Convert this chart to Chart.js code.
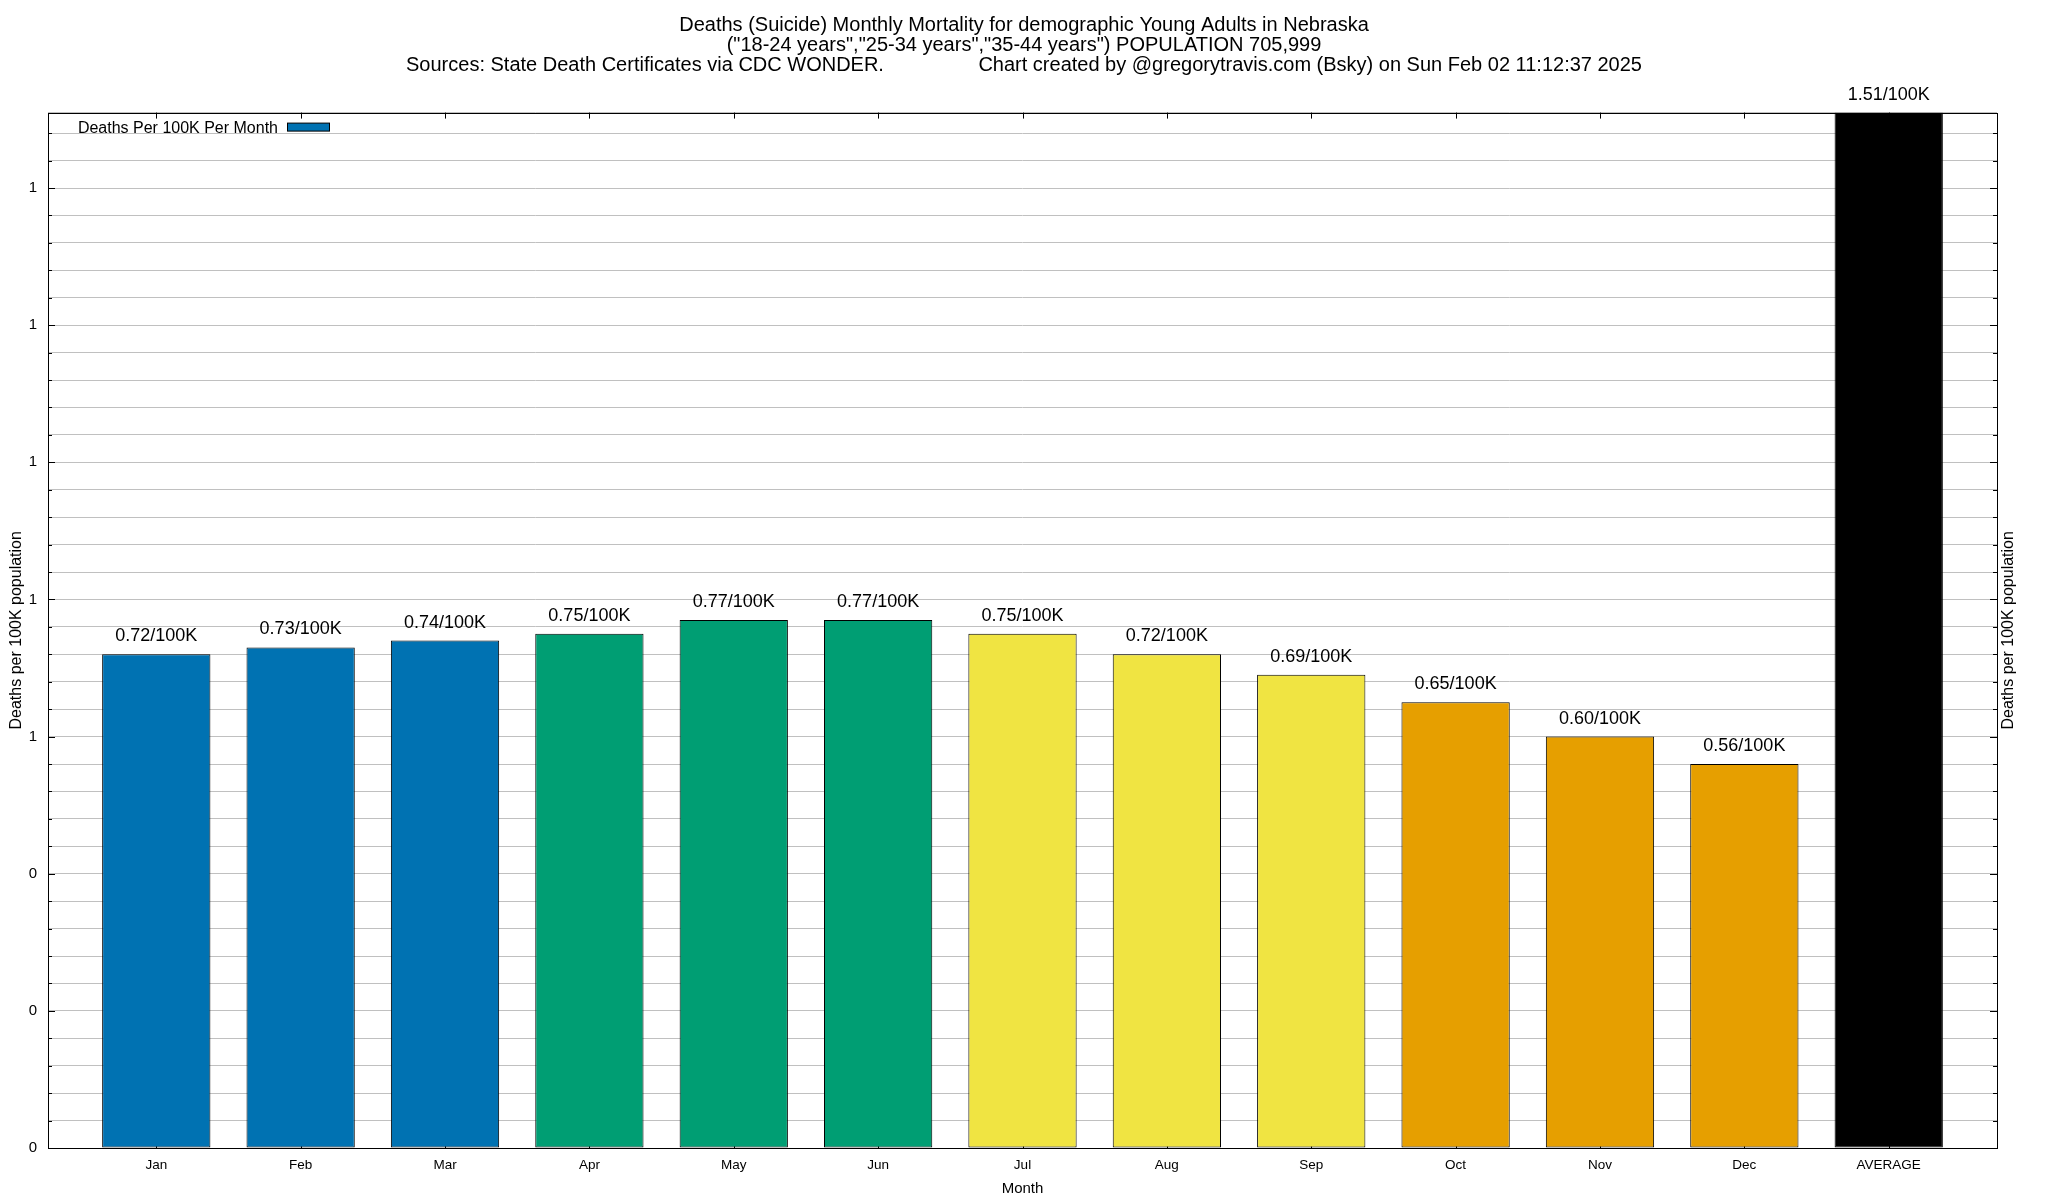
<!DOCTYPE html>
<html>
<head>
<meta charset="utf-8">
<script src="https://cdn.jsdelivr.net/npm/chart.js@4.4.1/dist/chart.umd.min.js"></script>
<style>
body{margin:0;background:#fff}
</style>
</head>
<body>
<canvas id="myChart" width="2048" height="1200"></canvas>
<script>
// data
const months = ['Jan', 'Feb', 'Mar', 'Apr', 'May', 'Jun', 'Jul', 'Aug', 'Sep', 'Oct', 'Nov', 'Dec', 'AVERAGE']
const rates = [0.72, 0.73, 0.74, 0.75, 0.77, 0.77, 0.75, 0.72, 0.69, 0.65, 0.60, 0.56, 1.51]
const barColors = ['#0072b2', '#0072b2', '#0072b2', '#009e73', '#009e73', '#009e73',
  '#f0e442', '#f0e442', '#f0e442', '#e69f00', '#e69f00', '#e69f00', '#000000']
const titleLines = [
  'Deaths (Suicide) Monthly Mortality for demographic Young Adults in Nebraska',
  '("18-24 years","25-34 years","35-44 years") POPULATION 705,999',
  'Sources: State Death Certificates via CDC WONDER.' + ' '.repeat(17) +
    'Chart created by @gregorytravis.com (Bsky) on Sun Feb 02 11:12:37 2025'
]
const seriesName = 'Deaths Per 100K Per Month'
const yName = 'Deaths per 100K population'
const xName = 'Month'
const Y_STEP = 0.04
const Y_LABEL_STEP = 0.2

const FONT = "'Liberation Sans', Arial, Helvetica, sans-serif"
Chart.defaults.color = '#000'
Chart.defaults.font.family = FONT

function isMajor(v) {
  const r = v / Y_LABEL_STEP
  return Math.abs(r - Math.round(r)) < 1e-6
}

//gnuplot style frame, inside ticks, bar labels, key and right label
const gnuFrame = {
  id: 'gnuFrame',
  beforeDatasetsDraw(chart) {
    const {ctx, chartArea: a, scales: {x, y}} = chart
    ctx.save()
    ctx.strokeStyle = '#000'
    ctx.lineWidth = 1
    ctx.beginPath()
    y.ticks.forEach(t => {
      const py = Math.round(y.getPixelForValue(t.value)) + 0.5
      const len = isMajor(t.value) ? 7 : 4
      ctx.moveTo(a.left, py); ctx.lineTo(a.left + len, py)
      ctx.moveTo(a.right, py); ctx.lineTo(a.right - len, py)
    })
    x.ticks.forEach(t => {
      const px = Math.round(x.getPixelForValue(t.value)) + 0.5
      ctx.moveTo(px, a.top); ctx.lineTo(px, a.top + 6)
      ctx.moveTo(px, a.bottom); ctx.lineTo(px, a.bottom - 6)
    })
    ctx.stroke()
    ctx.restore()
  },
  afterDatasetsDraw(chart) {
    const {ctx, chartArea: a} = chart
    ctx.save()
    ctx.strokeStyle = '#000'
    ctx.lineWidth = 1
    ctx.strokeRect(Math.round(a.left) + 0.5, Math.round(a.top) + 0.5,
      Math.round(a.right - a.left), Math.round(a.bottom - a.top))

    // value labels
    ctx.fillStyle = '#000'
    ctx.font = '18px ' + FONT
    ctx.textAlign = 'center'
    ctx.textBaseline = 'alphabetic'
    const meta = chart.getDatasetMeta(0)
    meta.data.forEach((bar, i) => {
      ctx.fillText(rates[i].toFixed(2) + '/100K', bar.x, bar.y - 13)
    })

    // key
    const ds = chart.data.datasets[0]
    ctx.font = '16px ' + FONT
    ctx.textAlign = 'right'
    ctx.fillText(ds.label, a.left + 230, a.top + 20)
    ctx.fillStyle = barColors[0]
    ctx.fillRect(a.left + 239.5, a.top + 10.5, 42, 8)
    ctx.strokeRect(a.left + 239.5, a.top + 10.5, 42, 8)

    // right axis label
    ctx.fillStyle = '#000'
    ctx.translate(a.right + 12, (a.top + a.bottom) / 2)
    ctx.rotate(-Math.PI / 2)
    ctx.textAlign = 'center'
    ctx.textBaseline = 'middle'
    ctx.fillText(yName, 0, 0)
    ctx.restore()
  }
}

const ctx = document.getElementById('myChart').getContext('2d')
const myChart = new Chart(ctx, {
  type: 'bar',
  data: {
    datasets: [{
      label: seriesName,
      data: rates.map((v, i) => ({x: i, y: v})),
      backgroundColor: barColors,
      borderColor: '#000',
      borderWidth: 1,
      borderSkipped: false,
      barPercentage: 0.75,
      categoryPercentage: 1
    }]
  },
  options: {
    responsive: false,
    animation: false,
    devicePixelRatio: 1,
    layout: {padding: 0},
    plugins: {
      legend: {display: false},
      tooltip: {enabled: false},
      title: {
        display: true,
        text: titleLines,
        color: '#000',
        font: {size: 20, weight: 'normal', lineHeight: 1.01},
        padding: {top: 15, bottom: 37}
      }
    },
    scales: {
      x: {
        type: 'linear',
        offset: false,
        min: -0.75,
        max: months.length - 0.25,
        afterBuildTicks: s => { s.ticks = months.map((m, i) => ({value: i})) },
        afterFit: s => { s.height = 52 },
        grid: {display: false, drawTicks: false, offset: false},
        border: {display: false},
        ticks: {
          autoSkip: false,
          maxRotation: 0,
          padding: 9,
          font: {size: 13.5},
          callback: v => months[v] ?? ''
        },
        title: {display: true, text: xName, font: {size: 15}, padding: {top: 0, bottom: 2}}
      },
      y: {
        min: 0,
        max: Math.max(...rates),
        afterFit: s => { s.width = 48 },
        grid: {color: '#c0c0c0', lineWidth: 1, drawTicks: false},
        border: {display: false},
        ticks: {
          stepSize: Y_STEP,
          padding: 11,
          font: {size: 15},
          callback: v => isMajor(v) ? Math.round(v).toString() : ''
        },
        title: {display: true, text: yName, font: {size: 16}, padding: {top: 7, bottom: 0}}
      },
      // empty right axis, only reserves the margin for the mirrored label
      y2: {
        position: 'right',
        min: 0,
        max: 1,
        afterFit: s => { s.width = 51 },
        grid: {display: false, drawTicks: false},
        border: {display: false},
        ticks: {display: false}
      }
    }
  },
  plugins: [gnuFrame]
})
</script>
</body>
</html>
